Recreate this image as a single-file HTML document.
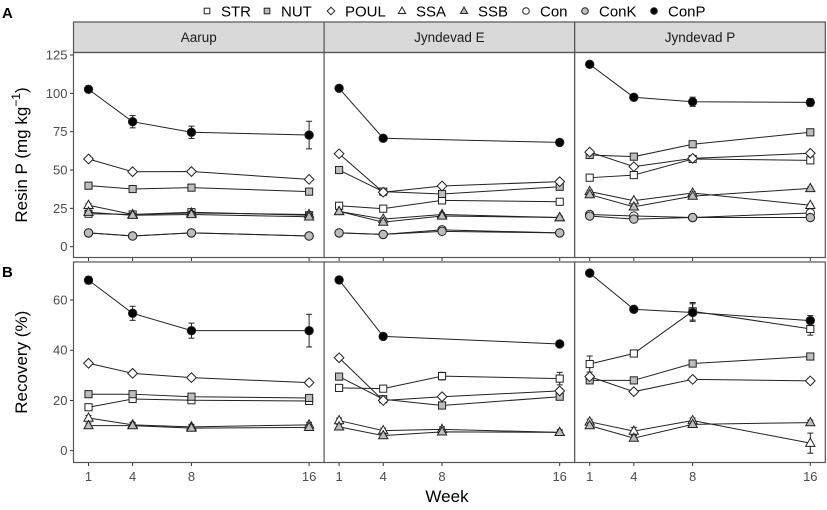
<!DOCTYPE html>
<html><head><meta charset="utf-8"><style>
body{margin:0;background:#fff;}
svg{display:block;font-family:"Liberation Sans",sans-serif;}
</style></head><body>
<svg id="chart" width="827" height="510" viewBox="0 0 827 510" xmlns="http://www.w3.org/2000/svg"></svg>
<script>
const weeks = [1, 4, 8, 16];
const panels = ['Aarup', 'Jyndevad E', 'Jyndevad P'];
const seriesNames = ['STR','NUT','POUL','SSA','SSB','Con','ConK','ConP'];
const resinTicks = [0, 25, 50, 75, 100, 125];
const recovTicks = [0, 20, 40, 60];
// Resin P values [panel][week]
const resinSTR  = [[21.5,21,22.5,20.5],[26.7,24.8,30.2,29.3],[45,46.7,57.2,56.3]];
const resinNUT  = [[39.8,37.6,38.5,35.9],[50,35.9,34.4,39.1],[59.8,58.7,66.8,74.6]];
const resinPOUL = [[57.2,48.9,49,43.9],[60.6,35.5,39.6,42.4],[61.7,52.2,57.6,60.9]];
const resinSSA  = [[27,21,22,21],[23,18,21,19],[36,30,35,27]];
const resinSSB  = [[22.5,20.5,21,19.5],[23,16,20,19],[34,26,33,38]];
const resinCon  = [[9,7,9,7],[9,8,11,9],[21,20,19,22]];
const resinConK = [[9,7,9,7],[9,8,10,9],[20,18,19,19]];
const resinConP = [[102.6,81.5,74.6,72.8],[103.3,70.7,null,68],[118.9,97.4,94.5,94.1]];
const resinConPErr = [[1.5,4,4,9],[1,1,0,1],[1.5,1.5,3,2.5]];
// Recovery values [panel][week]
const recSTR  = [[17.3,20.6,20.1,19.8],[25,24.7,29.7,28.7],[34.5,38.7,55.5,48.5]];
const recNUT  = [[22.5,22.5,21.5,21],[29.5,20.5,18,21.5],[28,28,34.7,37.5]];
const recPOUL = [[34.8,30.8,29.1,27.1],[37,20,21.5,23.8],[29.5,23.5,28.4,27.8]];
const recSSA  = [[13,10.3,9.5,10.3],[12,8,8.5,7.3],[11.5,7.8,12,3]];
const recSSB  = [[10,10,9,9.3],[9.5,6,7.5,7.3],[10,5,10.5,11.2]];
const recConP = [[67.9,54.7,47.8,47.8],[68,45.5,null,42.5],[70.7,56.3,55,51.8]];
const recConPErr = [[1.5,2.8,3,6.5],[1.2,1,0,0.8],[1,1,3.5,2]];
const recSSAErr = [[1,1,1,1],[1,1,1,1],[1,1.5,1,4]];
const recSTRErr = [[1,1,1,1],[1,1,1.5,2.5],[3.2,1.3,3.5,2.5]];

const NS='http://www.w3.org/2000/svg';
const svg=document.getElementById('chart');
function mk(tag,attrs,parent){const e=document.createElementNS(NS,tag);for(const k in attrs)e.setAttribute(k,attrs[k]);(parent||svg).appendChild(e);return e;}

const panelX0=73.5, panelW=250.6, pad=15;
function xScale(p,w){return panelX0+p*panelW+pad+(w-1)/15*(panelW-2*pad);}
const rows=[
  {top:52.5,bot:257.5,y0:246.7,y1:55,v1:125,ticks:resinTicks,label:'Resin P (mg kg',letter:'A',
   series:{STR:resinSTR,NUT:resinNUT,POUL:resinPOUL,SSA:resinSSA,SSB:resinSSB,Con:resinCon,ConK:resinConK,ConP:resinConP},errs:{ConP:resinConPErr}},
  {top:262,bot:462.5,y0:450.7,y1:300,v1:60,ticks:recovTicks,label:'Recovery (%)',letter:'B',
   series:{STR:recSTR,NUT:recNUT,POUL:recPOUL,SSA:recSSA,SSB:recSSB,ConP:recConP},errs:{ConP:recConPErr,SSA:recSSAErr,STR:recSTRErr}}
];
const style={STR:['sq','#fff'],NUT:['sq','#bdbdbd'],POUL:['di','#fff'],SSA:['tr','#fff'],SSB:['tr','#bdbdbd'],Con:['ci','#fff'],ConK:['ci','#bdbdbd'],ConP:['ci','#000']};
function marker(kind,fill,x,y,g,r){
  r=r||4.2;let e;
  if(kind==='sq')e=mk('rect',{x:x-r*0.85,y:y-r*0.85,width:r*1.7,height:r*1.7,fill:fill,stroke:'#222','stroke-width':1},g);
  else if(kind==='di')e=mk('polygon',{points:`${x},${y-r*1.15} ${x+r*1.15},${y} ${x},${y+r*1.15} ${x-r*1.15},${y}`,fill:fill,stroke:'#222','stroke-width':1},g);
  else if(kind==='tr')e=mk('polygon',{points:`${x},${y-r*1.2} ${x+r*1.1},${y+r*0.75} ${x-r*1.1},${y+r*0.75}`,fill:fill,stroke:'#222','stroke-width':1},g);
  else e=mk('circle',{cx:x,cy:y,r:r,fill:fill,stroke:'#222','stroke-width':1},g);
  return e;
}

rows.forEach((row,ri)=>{
  const ys=v=>row.y0+(v/row.v1)*(row.y1-row.y0);
  const lt=mk('text',{x:2,y:ri===0?18:277,'font-size':15,'font-weight':'bold',fill:'#000'});
  lt.textContent=row.letter;
  
  
  const yt=mk('text',{transform:`translate(27,${(row.top+row.bot)/2}) rotate(-90)`,'text-anchor':'middle','font-size':17,fill:'#000'});
  
  
  if(ri===0){yt.textContent=row.label;const ts=mk('tspan',{dy:-7,'font-size':12},yt);ts.textContent='−1';const t2=mk('tspan',{dy:7},yt);t2.textContent=')';}
  else yt.textContent=row.label;
  row.ticks.forEach(t=>{
    const y=ys(t);
    mk('line',{x1:panelX0-3.5,x2:panelX0,y1:y,y2:y,stroke:'#333','stroke-width':1});
    const tx=mk('text',{x:panelX0-6,y:y+4.5,'text-anchor':'end','font-size':13,fill:'#4d4d4d'});
    tx.textContent=t;
    
    
  });
  panels.forEach((pn,p)=>{
    const px=panelX0+p*panelW;
    const g=mk('g',{});
    
    
    mk('rect',{x:px,y:row.top,width:panelW,height:row.bot-row.top,fill:'#fff',stroke:'none'},g);
    weeks.forEach(w=>{
      const x=xScale(p,w);
      mk('line',{x1:x,x2:x,y1:row.bot,y2:row.bot+3.5,stroke:'#333','stroke-width':1},g);
      if(ri===1){const tx=mk('text',{x:x,y:481,'text-anchor':'middle','font-size':13,fill:'#4d4d4d'},g);tx.textContent=w;
        
        }
    });
    if(ri===0){
      const st=mk('rect',{x:px,y:22,width:panelW,height:30.5,fill:'#d9d9d9',stroke:'#555','stroke-width':1.2},g);
      
      
      const stx=mk('text',{x:px+panelW/2,y:42,'text-anchor':'middle','font-size':13.5,fill:'#1a1a1a'},g);
      stx.textContent=pn;
      
      
    }
    Object.keys(row.series).forEach(sn=>{
      const vals=row.series[sn][p];
      const pts=[];vals.forEach((v,i)=>{if(v!==null)pts.push([xScale(p,weeks[i]),ys(v)]);});
      const ln=mk('polyline',{points:pts.map(q=>q.join(',')).join(' '),fill:'none',stroke:'#222','stroke-width':1},g);
      
      
    });
    Object.keys(row.series).forEach(sn=>{
      const vals=row.series[sn][p];
      vals.forEach((v,i)=>{
        if(v===null)return;
        const x=xScale(p,weeks[i]),y=ys(v);
        let e=1;
        if(row.errs[sn])e=row.errs[sn][p][i];
        if(e>0){
          const ya=ys(v+e),yb=ys(v-e);
          mk('line',{x1:x,x2:x,y1:ya,y2:yb,stroke:'#222','stroke-width':1},g);
          mk('line',{x1:x-3,x2:x+3,y1:ya,y2:ya,stroke:'#222','stroke-width':1},g);
          mk('line',{x1:x-3,x2:x+3,y1:yb,y2:yb,stroke:'#222','stroke-width':1},g);
        }
        const m=marker(style[sn][0],style[sn][1],x,y,g);
        
        
      });
    });
    mk('rect',{x:px,y:row.top,width:panelW,height:row.bot-row.top,fill:'none',stroke:'#555','stroke-width':1.2},g);
  });
});
const xt=mk('text',{x:447,y:502,'text-anchor':'middle','font-size':17,fill:'#000'});
xt.textContent='Week';


const legX={STR:[207,221],NUT:[267,281],POUL:[331,345],SSA:[402,416],SSB:[464,478],Con:[526,540],ConK:[585,599],ConP:[654,668]};
seriesNames.forEach(sn=>{
  const lg=mk('g',{});
  
  
  marker(style[sn][0],style[sn][1],legX[sn][0],11,lg,3.3);
  const t=mk('text',{x:legX[sn][1],y:16.5,'font-size':15,fill:'#000'},lg);
  t.textContent=sn;
});
</script>
</body></html>
